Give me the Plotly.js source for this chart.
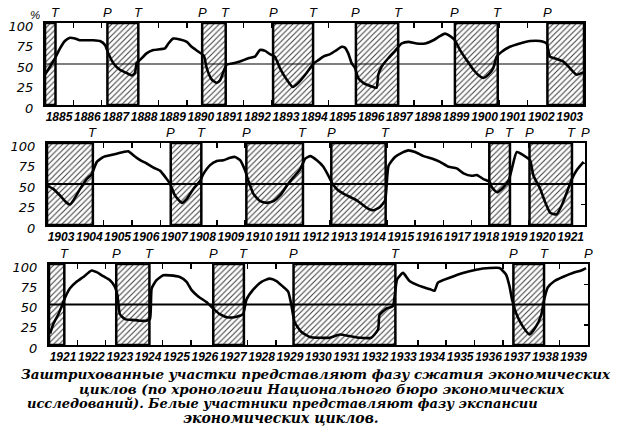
<!DOCTYPE html>
<html>
<head>
<meta charset="utf-8">
<script src="https://cdn.plot.ly/plotly-3.0.1.min.js"></script>
<style>
html, body { margin: 0; padding: 0; background: #fff; }
#chart { width: 633px; height: 432px; }
</style>
</head>
<body>
<div id="chart"></div>
<script>
// business cycle turning points (decimal years, NBER chronology)
var peaks = [1887.2, 1890.54, 1893.04, 1895.96, 1899.45, 1902.71, 1907.37, 1910.04, 1913.04, 1918.62, 1920.04, 1923.37, 1926.79, 1929.62, 1937.37];
var troughs = [1885.37, 1888.29, 1891.37, 1894.45, 1897.45, 1900.96, 1904.62, 1908.45, 1912.04, 1914.96, 1919.35, 1921.54, 1924.54, 1927.87, 1933.21, 1938.45];
// "P" marks drawn at the right end of panels 2 and 3
var endMarks = [1922, 1940];

// diffusion index, panel 1885-1903
var years1 = [1885.0, 1885.18, 1885.35, 1885.53, 1885.7, 1885.88, 1886.06, 1886.23, 1886.47, 1886.7, 1886.94, 1887.12, 1887.23, 1887.41, 1887.64, 1887.88, 1888.06, 1888.17, 1888.23, 1888.35, 1888.58, 1888.82, 1889.05, 1889.23, 1889.35, 1889.52, 1889.76, 1890.0, 1890.17, 1890.41, 1890.6, 1890.7, 1890.88, 1891.05, 1891.17, 1891.4, 1891.64, 1891.87, 1892.17, 1892.4, 1892.58, 1892.76, 1892.93, 1893.1, 1893.28, 1893.52, 1893.73, 1893.93, 1894.22, 1894.45, 1894.65, 1894.81, 1895.05, 1895.28, 1895.46, 1895.57, 1895.69, 1895.81, 1895.93, 1896.04, 1896.22, 1896.4, 1896.57, 1896.69, 1896.75, 1896.87, 1897.1, 1897.34, 1897.57, 1897.81, 1898.1, 1898.4, 1898.69, 1898.92, 1899.1, 1899.28, 1899.45, 1899.63, 1899.86, 1900.1, 1900.33, 1900.45, 1900.63, 1900.8, 1900.92, 1901.1, 1901.39, 1901.74, 1902.1, 1902.45, 1902.68, 1902.8, 1903.04, 1903.27, 1903.5, 1903.74, 1903.92, 1904.0];
var index1 = [37, 47, 57, 69, 78, 82, 81, 79, 79, 79, 78, 73, 63, 51, 43, 39, 36, 39, 51, 55, 63, 67, 68, 69, 75, 81, 80, 77, 71, 65, 60, 45, 31, 27, 30, 49, 51, 53, 57, 59, 67, 66, 62, 59, 45, 31, 22, 27, 39, 50, 55, 59, 62, 67, 71, 70, 63, 51, 45, 33, 27, 24, 22, 21, 37, 47, 57, 66, 75, 77, 75, 75, 79, 84, 87, 84, 79, 67, 55, 43, 35, 33, 37, 45, 59, 65, 71, 75, 78, 78, 75, 59, 56, 53, 45, 37, 39, 40];

// panel 1903-1921
var years2 = [1903.0, 1903.22, 1903.46, 1903.7, 1903.81, 1903.93, 1904.17, 1904.4, 1904.58, 1904.76, 1905.0, 1905.23, 1905.46, 1905.7, 1905.87, 1906.05, 1906.29, 1906.52, 1906.76, 1907.0, 1907.23, 1907.35, 1907.52, 1907.76, 1907.94, 1908.17, 1908.41, 1908.52, 1908.76, 1909.0, 1909.23, 1909.47, 1909.64, 1909.82, 1910.0, 1910.11, 1910.29, 1910.53, 1910.76, 1911.0, 1911.23, 1911.47, 1911.7, 1911.94, 1912.12, 1912.3, 1912.53, 1912.76, 1912.94, 1913.09, 1913.29, 1913.59, 1913.94, 1914.29, 1914.53, 1914.76, 1914.94, 1915.06, 1915.29, 1915.53, 1915.76, 1916.0, 1916.3, 1916.59, 1916.88, 1917.18, 1917.47, 1917.71, 1918.0, 1918.18, 1918.41, 1918.63, 1918.71, 1918.89, 1919.06, 1919.3, 1919.42, 1919.59, 1919.83, 1920.06, 1920.18, 1920.42, 1920.59, 1920.77, 1921.0, 1921.18, 1921.36, 1921.54, 1921.71, 1921.95];
var index2 = [48, 44, 36, 27, 25, 30, 44, 56, 62, 77, 83, 85, 87, 89, 90, 85, 79, 75, 70, 66, 56, 50, 36, 27, 32, 44, 54, 62, 73, 78, 79, 82, 83, 79, 66, 54, 38, 29, 27, 29, 36, 48, 58, 68, 81, 84, 79, 71, 60, 50, 42, 36, 30, 21, 18, 22, 30, 72, 83, 88, 91, 89, 84, 81, 77, 71, 69, 63, 60, 61, 56, 53, 46, 40, 44, 54, 69, 89, 85, 79, 60, 44, 28, 15, 13, 24, 40, 56, 67, 77];

// panel 1921-1939
var years3 = [1921.04, 1921.15, 1921.33, 1921.45, 1921.56, 1921.74, 1921.97, 1922.21, 1922.5, 1922.68, 1922.91, 1923.15, 1923.32, 1923.41, 1923.5, 1923.68, 1923.91, 1924.2, 1924.44, 1924.56, 1924.62, 1924.79, 1925.03, 1925.26, 1925.61, 1925.85, 1926.02, 1926.26, 1926.55, 1926.79, 1927.02, 1927.31, 1927.61, 1927.84, 1927.96, 1928.19, 1928.49, 1928.78, 1929.02, 1929.25, 1929.43, 1929.54, 1929.66, 1929.9, 1930.19, 1930.54, 1930.9, 1931.25, 1931.6, 1931.95, 1932.36, 1932.6, 1932.65, 1932.89, 1933.12, 1933.27, 1933.48, 1933.71, 1934.06, 1934.42, 1934.59, 1934.71, 1935.12, 1935.59, 1936.06, 1936.53, 1936.88, 1937.11, 1937.23, 1937.33, 1937.47, 1937.7, 1937.94, 1938.17, 1938.35, 1938.46, 1938.58, 1938.82, 1939.11, 1939.46, 1939.76, 1939.93];
var index3 = [14, 26, 38, 48, 58, 70, 78, 84, 92, 90, 85, 80, 72, 62, 38, 32, 31, 30, 30, 32, 70, 80, 86, 86, 84, 78, 68, 60, 53, 45, 38, 34, 35, 38, 56, 68, 78, 82, 79, 72, 66, 50, 28, 16, 10, 9, 9, 13, 11, 9, 9, 19, 37, 45, 48, 81, 89, 79, 73, 69, 67, 77, 83, 89, 93, 95, 95, 87, 73, 55, 39, 23, 13, 23, 37, 57, 71, 79, 84, 89, 92, 95];

var yearLabels1 = ["1885", "1886", "1887", "1888", "1889", "1890", "1891", "1892", "1893", "1894", "1895", "1896", "1897", "1898", "1899", "1900", "1901", "1902", "1903"];
var yearLabels2 = ["1903", "1904", "1905", "1906", "1907", "1908", "1909", "1910", "1911", "1912", "1913", "1914", "1915", "1916", "1917", "1918", "1919", "1920", "1921"];
var yearLabels3 = ["1921", "1922", "1923", "1924", "1925", "1926", "1927", "1928", "1929", "1930", "1931", "1932", "1933", "1934", "1935", "1936", "1937", "1938", "1939"];
var pctTicks = [0, 25, 50, 75, 100];

var captionLines = [
    "Заштрихованные участки представляют фазу сжатия экономических",
    "циклов (по хронологии Национального бюро экономических",
    "исследований). Белые участники представляют фазу экспансии",
    "экономических циклов."
];

var W = 633, H = 432;
var panels = [
    { years: years1, values: index1, labels: yearLabels1, range: [1885, 1904], box: [45, 584, 23, 105], mid: 1.2 },
    { years: years2, values: index2, labels: yearLabels2, range: [1903, 1922], box: [47, 585, 143, 225], mid: 2 },
    { years: years3, values: index3, labels: yearLabels3, range: [1921, 1940], box: [49, 588, 264, 345], mid: 2 }
];

// contraction phases: peak -> next trough
var contractions = [[1884, troughs[0]]].concat(peaks.map(function(p, i) {
    return [p, troughs[i + 1]];
}));

var italic = function(size, family, weight) {
    return { family: family || "Liberation Sans, Arial, sans-serif", size: size, color: "black", style: "italic", weight: weight || "normal" };
};

var data = [];
var layout = {
    width: W, height: H, autosize: false,
    margin: { l: 0, r: 0, t: 0, b: 0 },
    paper_bgcolor: "white", plot_bgcolor: "white",
    showlegend: false, barmode: "overlay",
    shapes: [], annotations: []
};

panels.forEach(function(pn, k) {
    var sfx = k === 0 ? "" : String(k + 1);
    var xa = "x" + sfx, ya = "y" + sfx;
    var b = pn.box;

    // hatched contraction bars
    var mids = [], widths = [], tops = [];
    contractions.forEach(function(c) {
        var s = Math.max(pn.range[0], c[0]), e = Math.min(pn.range[1], c[1]);
        if (e > s) { mids.push((s + e) / 2); widths.push(e - s); tops.push(100); }
    });
    data.push({
        type: "bar", x: mids, y: tops, width: widths, base: 0,
        xaxis: xa, yaxis: ya, hoverinfo: "skip",
        marker: {
            color: "white",
            line: { color: "black", width: 2.5 },
            pattern: { shape: "/", fgcolor: "#3a3a3a", bgcolor: "white", size: 4, solidity: 0.25, fillmode: "replace" }
        }
    });

    data.push({
        type: "scatter", mode: "lines", x: pn.years, y: pn.values,
        xaxis: xa, yaxis: ya, hoverinfo: "skip",
        line: { color: "black", width: 2.6, shape: "spline", smoothing: 0.5 }
    });

    layout["xaxis" + sfx] = {
        range: pn.range, domain: [b[0] / W, b[1] / W], anchor: ya,
        tickvals: pn.labels.map(Number), ticktext: pn.labels,
        ticklabelshift: 14, tickangle: 0,
        ticks: "inside", ticklen: 5, tickwidth: 1.5, tickcolor: "black",
        showline: true, linewidth: 2, linecolor: "black", mirror: "ticks",
        showgrid: false, zeroline: false, layer: "below traces",
        tickfont: italic(12, null, "bold"), fixedrange: true
    };
    layout["yaxis" + sfx] = {
        range: [0, 100], domain: [1 - b[3] / H, 1 - b[2] / H], anchor: xa,
        tickvals: pctTicks, ticks: "inside", ticklen: 4, tickwidth: 1.5, tickcolor: "black",
        ticklabelshift: 3, ticklabelstandoff: 7,
        showline: true, linewidth: 2, linecolor: "black", mirror: "ticks",
        showgrid: false, zeroline: false, layer: "below traces",
        tickfont: italic(13, "DejaVu Sans, sans-serif"), fixedrange: true
    };

    layout.shapes.push({
        type: "line", xref: xa + " domain", yref: ya, x0: 0, x1: 1, y0: 50, y1: 50,
        line: { color: "black", width: pn.mid }
    });

    // P / T marks above the panel
    var marks = [];
    peaks.forEach(function(p) { if (p > pn.range[0] && p <= pn.range[1]) marks.push([p, "P"]); });
    troughs.forEach(function(t) { if (t > pn.range[0] && t <= pn.range[1]) marks.push([t, "T"]); });
    endMarks.forEach(function(p) { if (p === pn.range[1]) marks.push([p, "P"]); });
    marks.forEach(function(m) {
        layout.annotations.push({
            xref: xa, yref: ya + " domain", x: m[0], y: 1, yanchor: "bottom", yshift: 1,
            text: m[1], showarrow: false, font: italic(13)
        });
    });
});

layout.annotations.push({
    xref: "paper", yref: "paper", x: 28 / W, y: 1 - 7 / H, text: "%", showarrow: false,
    font: italic(11.5)
});

var capX = [316, 322, 282, 281], capY = [373.5, 388.5, 403.5, 418.5], capSize = [13.5, 13.5, 13, 14];
captionLines.forEach(function(line, i) {
    layout.annotations.push({
        xref: "paper", yref: "paper", x: capX[i] / W, y: 1 - capY[i] / H,
        xanchor: "center", yanchor: "middle", text: line, showarrow: false,
        font: italic(capSize[i], "DejaVu Serif, serif", "bold")
    });
});

Plotly.newPlot("chart", data, layout, { staticPlot: true, displayModeBar: false });
</script>
</body>
</html>
